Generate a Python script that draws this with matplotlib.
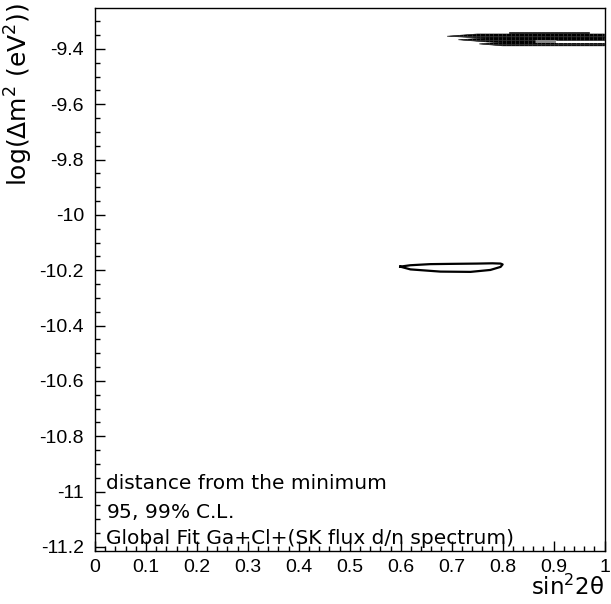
import numpy as np
import matplotlib
matplotlib.use("Agg")
import matplotlib.pyplot as plt
from matplotlib.patches import Polygon
from matplotlib.collections import LineCollection
from matplotlib.ticker import FixedLocator, MultipleLocator

plt.rcParams['font.family'] = ['Liberation Sans', 'DejaVu Sans']
plt.rcParams['mathtext.fontset'] = 'custom'
plt.rcParams['mathtext.rm'] = 'DejaVu Sans'
plt.rcParams['mathtext.it'] = 'DejaVu Sans:italic'

# axis ticks
x_ticks = [0.0, 0.1, 0.2, 0.3, 0.4, 0.5, 0.6, 0.7, 0.8, 0.9, 1.0]
x_tick_labels = ["0", "0.1", "0.2", "0.3", "0.4", "0.5", "0.6", "0.7", "0.8", "0.9", "1"]
y_ticks = [-11.2, -11.0, -10.8, -10.6, -10.4, -10.2, -10.0, -9.8, -9.6, -9.4]
y_tick_labels = ["-11.2", "-11", "-10.8", "-10.6", "-10.4", "-10.2", "-10", "-9.8", "-9.6", "-9.4"]

# 95% C.L. island around log(dm2) = -10.19 (closed contour)
island_s2 = [0.599, 0.619, 0.658, 0.70, 0.75, 0.78, 0.796, 0.800,
             0.796, 0.776, 0.737, 0.678, 0.619, 0.599]
island_logdm2 = [-10.187, -10.182, -10.178, -10.177, -10.176, -10.175, -10.176, -10.179,
                 -10.188, -10.199, -10.206, -10.205, -10.197, -10.187]

# dense allowed band near log(dm2) = -9.36 (stacked contour strips)
band_strips = [
    # (sin^2 2theta vertices, log dm2 vertices)
    ([0.691, 0.75, 1.0, 1.0, 0.75],
     [-9.354, -9.346, -9.346, -9.360, -9.360]),
    ([0.713, 0.77, 1.0, 1.0, 0.77],
     [-9.367, -9.360, -9.360, -9.375, -9.375]),
    ([0.754, 0.80, 1.0, 1.0, 0.80],
     [-9.382, -9.375, -9.375, -9.389, -9.389]),
    ([0.813, 0.969, 0.969, 0.813],
     [-9.340, -9.340, -9.343, -9.343]),
]
# lighter inner levels inside the band
inner_gray_s2 = [0.864, 0.904]
inner_gray_logdm2 = -9.370
inner_white_s2 = [0.904, 1.0]
inner_white_logdm2 = -9.374

fig = plt.figure(figsize=(6.11, 6.04), dpi=100)
ax = fig.add_axes([0.1555, 0.0882, 0.9894 - 0.1555, 0.9868 - 0.0882])
ax.set_xlim(0.0, 1.0)
ax.set_ylim(-11.214, -9.252)

# island contour
ax.plot(island_s2, island_logdm2, color='black', lw=1.6, solid_joinstyle='round')

# band strips with bin grid
grid_x = np.arange(0.68, 1.0, 0.0085)
for xs, ys in band_strips:
    poly = Polygon(np.column_stack([xs, ys]), closed=True, facecolor='black',
                   edgecolor='black', lw=0.4)
    ax.add_patch(poly)
    segs = [[(gx, min(ys) - 0.01), (gx, max(ys) + 0.01)] for gx in grid_x]
    lc = LineCollection(segs, colors='#404040', linewidths=0.5)
    ax.add_collection(lc)
    lc.set_clip_path(poly)
    mid = 0.5 * (min(ys) + max(ys))
    hl, = ax.plot([min(xs), 1.0], [mid, mid], color='#3a3a3a', lw=0.5)
    hl.set_clip_path(poly)

ax.plot(inner_gray_s2, [inner_gray_logdm2] * 2, color='#8a8a8a', lw=2.2, solid_capstyle='butt')
ax.plot(inner_white_s2, [inner_white_logdm2] * 2, color='white', lw=1.6, solid_capstyle='butt')

# ticks
ax.xaxis.set_major_locator(FixedLocator(x_ticks))
ax.set_xticklabels(x_tick_labels)
ax.xaxis.set_minor_locator(MultipleLocator(0.02))
ax.yaxis.set_major_locator(FixedLocator(y_ticks))
ax.set_yticklabels(y_tick_labels)
ax.yaxis.set_minor_locator(MultipleLocator(0.05))
ax.tick_params(which='both', direction='in', top=False, right=False, width=1, labelsize=14)
ax.tick_params(which='major', length=7.2)
ax.tick_params(which='minor', length=3.6)
ax.tick_params(axis='x', pad=6)
ax.tick_params(axis='y', pad=8)
for sp in ax.spines.values():
    sp.set_linewidth(1.0)

ax.set_ylabel(r"log($\Delta$m$^2$ (eV$^2$))", fontsize=18, family='DejaVu Sans', loc='top')
ax.yaxis.set_label_coords(-0.118, 1.009)
ax.set_xlabel(r"sin$^2$2θ", fontsize=16.5, family='DejaVu Sans', loc='right', va='top')
ax.xaxis.set_label_coords(1.0, -0.045)

# legend text
legend_lines = ["distance from the minimum",
                r"95, 99$\mathit{\%}$ C.L.",
                "Global Fit Ga+Cl+(SK flux d/n spectrum)"]
legend_baselines = [0.1137, 0.0603, 0.0123]
for line, yb in zip(legend_lines, legend_baselines):
    ax.text(0.021, yb, line, transform=ax.transAxes, fontsize=14.5, family='DejaVu Sans',
            va='baseline', ha='left')

fig.savefig("out.png", dpi=100)
